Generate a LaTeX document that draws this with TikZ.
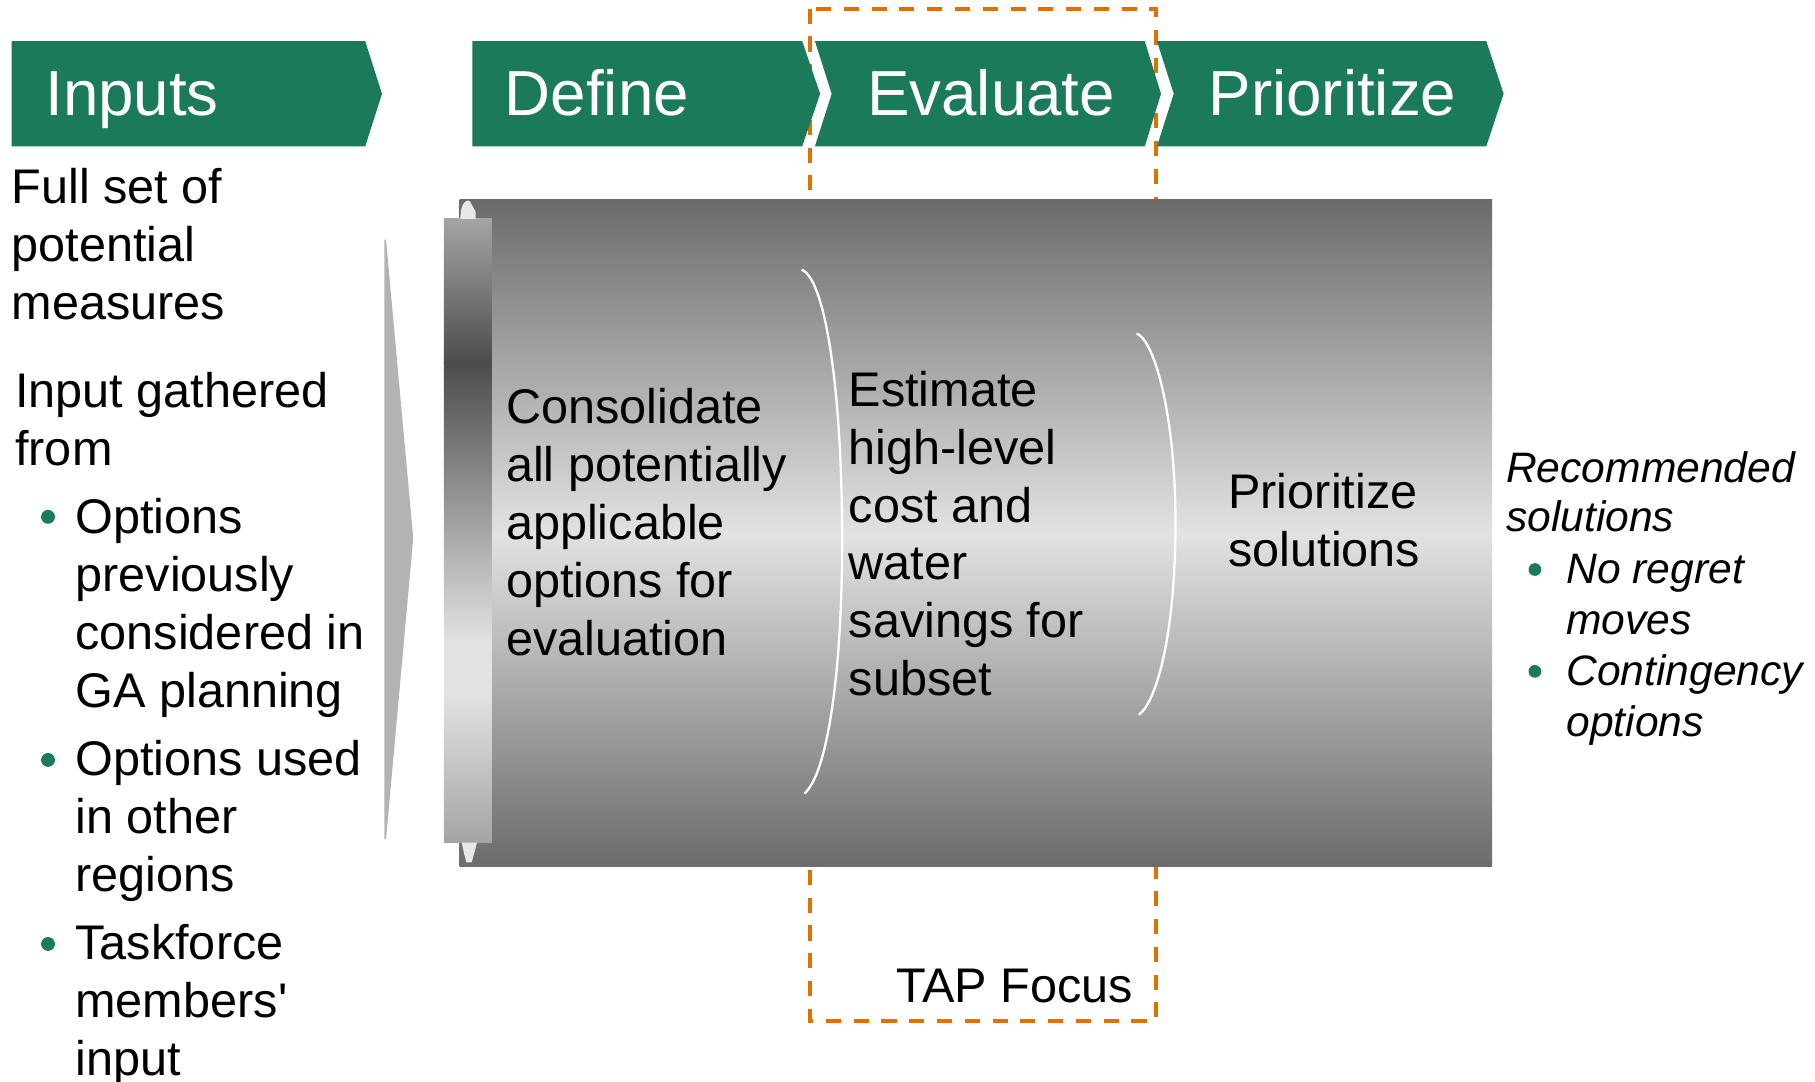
\documentclass[tikz,border=0pt]{standalone}
\usepackage{fontspec}
\setmainfont{Liberation Sans}[Ligatures=TeXOff]
\definecolor{chevgreen}{RGB}{26,122,90}
\definecolor{tapor}{RGB}{224,112,0}
\definecolor{gdark}{RGB}{107,107,107}
\definecolor{glight}{RGB}{226,226,226}
\definecolor{barA}{RGB}{164,164,164}
\definecolor{barD}{RGB}{76,76,76}
\definecolor{barL}{RGB}{226,226,226}
\definecolor{wedgegray}{RGB}{179,179,179}
\definecolor{tipgray}{RGB}{232,232,232}
\begin{document}
\begin{tikzpicture}[x=1pt,y=-1pt,
  chev/.style={fill=chevgreen, draw=none},
  chevtxt/.style={text=white, anchor=base west, inner sep=0pt, font=\fontsize{55}{60}\selectfont},
  body/.style={anchor=base west, inner sep=0pt, font=\fontsize{42}{50}\selectfont},
  rtxt/.style={anchor=base west, inner sep=0pt, font=\fontsize{36.8}{44}\selectfont\itshape},
  bulletdot/.style={circle, fill=chevgreen, inner sep=0pt, minimum size=12pt},
  bracketline/.style={draw=white, line width=2pt},
  focusbox/.style={draw=tapor, line width=3.5pt, dash pattern=on 13pt off 11pt}
]
\useasboundingbox (0,0) rectangle (1568,934);

% TAP focus dashed box (behind)
\draw[focusbox] (700,7.5) rectangle (998.5,882);

% chevrons
\fill[chev] (10,35.5) -- (315.5,35.5) -- (330,81) -- (315.5,126.5) -- (10,126.5) -- cycle;
\fill[chev] (408,35.5) -- (693,35.5) -- (708.5,81) -- (693,126.5) -- (408,126.5) -- cycle;
\fill[chev] (704,35.5) -- (989,35.5) -- (1003,81) -- (989,126.5) -- (704,126.5) -- (718.5,81) -- cycle;
\fill[chev] (999.5,35.5) -- (1284,35.5) -- (1299,81) -- (1284,126.5) -- (999.5,126.5) -- (1014,81) -- cycle;

\node[chevtxt] (hInputs) at (39,99.4) {Inputs};
\node[chevtxt] (hDefine) at (436,99.4) {Define};
\node[chevtxt] (hEval) at (749,99.4) {Evaluate};
\node[chevtxt] (hPrio) at (1044,99.4) {Prioritize};

% wedge arrow
\fill[wedgegray] (332,207) -- (333.5,207) -- (357,465) -- (333.5,725) -- (332,725) -- cycle;

% main gray panel
\shade[top color=gdark, bottom color=gdark, middle color=glight] (397,172) rectangle (1289,749);

% scroll bar
\shade[top color=barA, bottom color=barD] (383.5,189) rectangle (425,314);
\shade[top color=barD, bottom color=barL] (383.5,313.5) rectangle (425,555);
\fill[barL] (383.5,554.5) rectangle (425,600.5);
\shade[top color=barL, bottom color=barA] (383.5,600) rectangle (425,728);

% scroll tips
\fill[tipgray] (397.5,189) -- (398.5,181) .. controls (400,174) and (404,172) .. (406,174) -- (411,183) -- (411,189) -- cycle;
\fill[tipgray] (399,728) -- (412,728) -- (410,736) -- (407.5,745) -- (403,745) -- (401,738) -- cycle;

% white bracket curves
\draw[bracketline] (692.5,233) .. controls (712,240) and (727,330) .. (727.5,460) .. controls (728,580) and (715,668) .. (695,685.5);
\draw[bracketline] (982,288) .. controls (998,295) and (1015.5,360) .. (1015.5,452) .. controls (1015.5,545) and (1000,605) .. (984,617.5);

% left column text
\node[body] (l1) at (10,176) {Full set of};
\node[body] (l2) at (10,226) {potential};
\node[body] (l3) at (10,276) {measures};
\node[body] (l4) at (13,352) {Input gathered};
\node[body] (l5) at (13,402) {from};
\node[bulletdot] (b1) at (41.5,446.5) {};
\node[body] (l6) at (65,461) {Options};
\node[body] (l7) at (65,511) {previously};
\node[body] (l8) at (65,561) {considered in};
\node[body] (l9) at (65,611) {GA planning};
\node[bulletdot] (b2) at (41.5,656.5) {};
\node[body] (l10) at (65,670) {Options used};
\node[body] (l11) at (65,720) {in other};
\node[body] (l12) at (65,770) {regions};
\node[bulletdot] (b3) at (41.5,815.5) {};
\node[body] (l13) at (65,829) {Taskforce};
\node[body] (l14) at (65,879) {members'};
\node[body] (l15) at (65,929) {input};

% define text
\node[body] (d1) at (437,366) {Consolidate};
\node[body] (d2) at (437,416) {all potentially};
\node[body] (d3) at (437,466) {applicable};
\node[body] (d4) at (437,516) {options for};
\node[body] (d5) at (437,566) {evaluation};

% evaluate text
\node[body] (e1) at (733,351) {Estimate};
\node[body] (e2) at (733,401) {high-level};
\node[body] (e3) at (733,451) {cost and};
\node[body] (e4) at (733,501) {water};
\node[body] (e5) at (733,551) {savings for};
\node[body] (e6) at (733,601) {subset};

% prioritize text
\node[body] (p1) at (1061,439) {Prioritize};
\node[body] (p2) at (1061,489) {solutions};

% right text
\node[rtxt] (r1) at (1301,417) {Recommended};
\node[rtxt] (r2) at (1301,459) {solutions};
\node[bulletdot, minimum size=11pt] (rb1) at (1326,492) {};
\node[rtxt] (r3) at (1353,504) {No regret};
\node[rtxt] (r4) at (1353,548) {moves};
\node[bulletdot, minimum size=11pt] (rb2) at (1326,580) {};
\node[rtxt] (r5) at (1353,592) {Contingency};
\node[rtxt] (r6) at (1353,636) {options};

% TAP focus label
\node[body] (tap) at (774,866) {TAP Focus};
\end{tikzpicture}
\end{document}
